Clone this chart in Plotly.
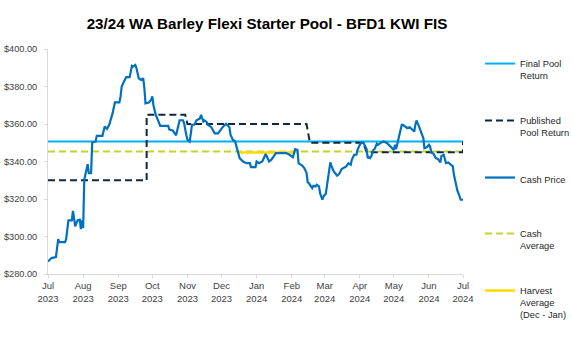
import plotly.graph_objects as go

cash_dates = [
    "2023-07-01","2023-07-04","2023-07-08","2023-07-10","2023-07-11","2023-07-16","2023-07-17","2023-07-19",
    "2023-07-22","2023-07-23","2023-07-25","2023-07-27","2023-07-29","2023-07-30","2023-07-31","2023-08-01",
    "2023-08-02","2023-08-03","2023-08-05","2023-08-06","2023-08-08","2023-08-09","2023-08-12","2023-08-13",
    "2023-08-18","2023-08-20","2023-08-22","2023-08-24","2023-08-27","2023-08-29","2023-09-02","2023-09-03",
    "2023-09-04","2023-09-06","2023-09-08","2023-09-11","2023-09-13","2023-09-14","2023-09-16","2023-09-17",
    "2023-09-19","2023-09-21","2023-09-23","2023-09-24","2023-09-25","2023-09-28","2023-09-30","2023-10-01",
    "2023-10-02","2023-10-04","2023-10-06","2023-10-08","2023-10-12","2023-10-15","2023-10-16","2023-10-19",
    "2023-10-22","2023-10-24","2023-10-25","2023-10-28","2023-10-29","2023-10-31","2023-11-01","2023-11-03",
    "2023-11-05","2023-11-07","2023-11-09","2023-11-12","2023-11-13","2023-11-15","2023-11-16","2023-11-18",
    "2023-11-19","2023-11-22","2023-11-25","2023-11-28","2023-11-30","2023-12-02","2023-12-05","2023-12-08",
    "2023-12-09","2023-12-11","2023-12-13","2023-12-15","2023-12-17","2023-12-20","2023-12-23","2023-12-26",
    "2023-12-27","2023-12-31","2024-01-01","2024-01-03","2024-01-06","2024-01-09","2024-01-12","2024-01-14",
    "2024-01-18","2024-01-23","2024-01-27","2024-01-30","2024-02-02","2024-02-04","2024-02-06","2024-02-07",
    "2024-02-10","2024-02-12","2024-02-14","2024-02-15","2024-02-16","2024-02-19","2024-02-20","2024-02-22",
    "2024-02-23","2024-02-25","2024-02-26","2024-02-28","2024-02-29","2024-03-02","2024-03-04","2024-03-06",
    "2024-03-07","2024-03-09","2024-03-12","2024-03-14","2024-03-16","2024-03-18","2024-03-20","2024-03-22",
    "2024-03-24","2024-03-25","2024-03-27","2024-03-29","2024-03-30","2024-04-01","2024-04-02","2024-04-04",
    "2024-04-05","2024-04-07","2024-04-08","2024-04-09","2024-04-10","2024-04-11","2024-04-13","2024-04-14",
    "2024-04-16","2024-04-17","2024-04-20","2024-04-22","2024-04-25","2024-04-28","2024-04-30","2024-05-01",
    "2024-05-02","2024-05-03","2024-05-05","2024-05-06","2024-05-08","2024-05-09","2024-05-11","2024-05-13",
    "2024-05-15","2024-05-17","2024-05-19","2024-05-20","2024-05-21","2024-05-23","2024-05-24","2024-05-26",
    "2024-05-27","2024-05-28","2024-05-30","2024-06-01","2024-06-02","2024-06-03","2024-06-05","2024-06-07",
    "2024-06-09","2024-06-11","2024-06-12","2024-06-14","2024-06-16","2024-06-18","2024-06-20","2024-06-22",
    "2024-06-23","2024-06-25","2024-06-26","2024-06-28","2024-06-29","2024-07-01",
]
cash_price = [
    286.7,288.5,289.0,298.6,297.0,297.0,298.6,308.6,
    308.6,313.7,305.4,308.6,309.0,304.0,308.6,304.5,
    330.3,333.8,338.6,333.8,333.8,350.2,350.7,353.7,
    353.7,358.7,357.4,359.6,365.8,371.5,371.5,374.7,
    380.0,382.7,385.0,385.0,391.0,390.6,391.5,389.8,
    384.4,383.5,384.4,379.0,371.0,371.5,373.0,374.7,
    370.0,365.0,362.0,359.0,359.0,359.0,357.0,356.5,
    354.0,359.6,362.0,362.0,360.5,354.0,351.6,350.7,
    359.6,359.6,362.0,363.0,364.9,361.3,361.9,361.0,
    359.6,358.3,355.0,355.0,357.0,358.3,360.1,358.3,
    354.2,351.6,350.7,346.2,341.8,340.0,339.1,339.1,
    337.0,337.0,340.0,339.1,340.0,344.0,340.0,341.0,
    344.5,344.5,344.5,343.6,342.3,346.6,346.2,339.0,
    338.0,336.5,334.0,329.0,328.5,325.8,327.0,326.7,
    327.6,326.7,323.0,319.6,321.4,322.8,332.0,339.5,
    337.7,334.7,332.4,333.5,336.0,336.5,337.4,339.1,
    338.3,341.0,343.6,343.6,346.2,348.9,349.8,350.2,
    348.9,346.6,341.8,342.3,341.8,342.7,346.2,346.6,
    349.5,348.9,350.2,350.7,349.8,348.0,347.1,346.2,
    348.9,346.6,351.9,355.0,359.6,359.6,358.7,357.8,
    358.3,357.0,356.0,359.6,361.9,359.0,357.3,355.0,
    352.5,347.1,347.6,348.9,348.0,344.8,344.1,341.8,
    341.3,339.5,343.0,343.6,339.1,339.5,338.3,337.4,
    332.9,326.7,324.6,321.4,319.6,319.6,
]

published_dates = ["2023-07-01","2023-09-26","2023-09-26","2023-10-30","2023-11-01","2024-02-14",
                   "2024-02-17","2024-04-04","2024-04-07","2024-07-01","2024-07-01"]
published_vals = [330, 330, 365, 365, 360, 360, 350, 350, 345, 345, 350.5]

final_dates = ["2023-07-01", "2024-07-01"]
final_vals = [350.7, 350.7]

cash_avg_dates = ["2023-07-01", "2024-07-01"]
cash_avg_vals = [345.4, 345.4]

harvest_dates = ["2023-12-15", "2024-02-03"]
harvest_vals = [344.8, 344.8]

tick_dates = ["2023-07-01","2023-08-01","2023-09-01","2023-10-01","2023-11-01","2023-12-01",
              "2024-01-01","2024-02-01","2024-03-01","2024-04-01","2024-05-01","2024-06-01","2024-07-01"]
tick_text = ["Jul<br>2023","Aug<br>2023","Sep<br>2023","Oct<br>2023","Nov<br>2023","Dec<br>2023",
             "Jan<br>2024","Feb<br>2024","Mar<br>2024","Apr<br>2024","May<br>2024","Jun<br>2024","Jul<br>2024"]

FONT = "Arial, 'Liberation Sans', sans-serif"

fig = go.Figure()
fig.add_trace(go.Scatter(x=cash_avg_dates, y=cash_avg_vals, mode="lines", name="Cash<br>Average",
                         line=dict(color="#C2D32A", width=2, dash="7px,4px"), legend="legend4"))
fig.add_trace(go.Scatter(x=harvest_dates, y=harvest_vals, mode="lines", name="Harvest<br>Average<br>(Dec - Jan)",
                         line=dict(color="#FFDA00", width=2.5), legend="legend5"))
fig.add_trace(go.Scatter(x=final_dates, y=final_vals, mode="lines", name="Final Pool<br>Return",
                         line=dict(color="#00B0F0", width=2), legend="legend"))
fig.add_trace(go.Scatter(x=published_dates, y=published_vals, mode="lines", name="Published<br>Pool Return",
                         line=dict(color="#0E2841", width=2, dash="7px,4px"), legend="legend2"))
fig.add_trace(go.Scatter(x=cash_dates, y=cash_price, mode="lines", name="Cash Price",
                         line=dict(color="#0070C0", width=2.2), legend="legend3"))

def leg(py):
    return dict(x=(480 - 48) / 415, xanchor="left", y=(274 - (py - 13)) / 225, yanchor="top",
                bgcolor="rgba(0,0,0,0)", font=dict(family=FONT, size=9.3, color="#262626"),
                valign="top", itemwidth=30, tracegroupgap=0)

fig.update_layout(
    width=572, height=337,
    margin=dict(l=48, r=109, t=49, b=63, autoexpand=False),
    paper_bgcolor="white", plot_bgcolor="white",
    title=dict(text="<b>23/24 WA Barley Flexi Starter Pool - BFD1 KWI FIS</b>",
               x=267 / 572, xanchor="center", y=1 - 24 / 337, yanchor="middle",
               font=dict(family=FONT, size=15.2, color="#000000")),
    showlegend=True,
    legend=leg(64), legend2=leg(121), legend3=leg(178), legend4=leg(234), legend5=leg(291),
    xaxis=dict(type="date", range=["2023-07-01", "2024-07-01"], tickvals=tick_dates, ticktext=tick_text,
               showgrid=False, zeroline=False, showline=True, linecolor="#D9D9D9", linewidth=1,
               ticks="outside", ticklen=3, tickcolor="#D9D9D9",
               tickfont=dict(family=FONT, size=9.5, color="#404040")),
    yaxis=dict(range=[280, 400], dtick=20, tickformat="$,.2f", showgrid=False, zeroline=False,
               showline=True, linecolor="#D9D9D9", linewidth=1, ticks="outside", ticklen=3,
               tickcolor="#D9D9D9", ticklabelstandoff=5,
               tickfont=dict(family=FONT, size=9.2, color="#404040")),
)

fig.write_html("out.html")
